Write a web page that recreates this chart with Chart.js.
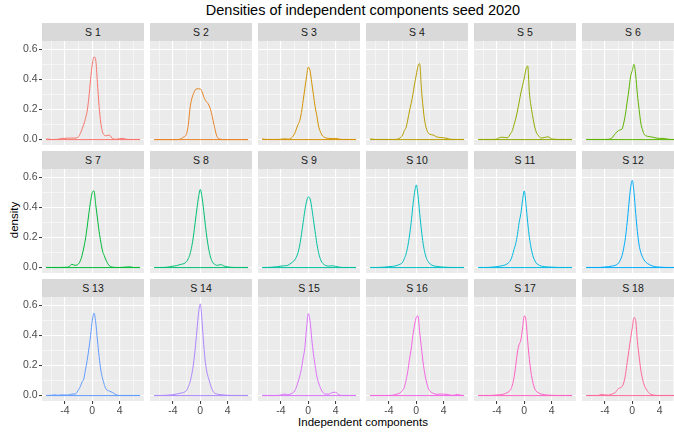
<!DOCTYPE html>
<html>
<head>
<meta charset="utf-8">
<script src="https://cdn.jsdelivr.net/npm/chart.js@4/dist/chart.umd.min.js"></script>
<style>
  body { margin: 0; background: #fff; }
  #wrap { position: relative; width: 674px; height: 432px; overflow: hidden; background: #fff;
          font-family: "Liberation Sans", Arial, sans-serif; }
  #wrap canvas { position: absolute; }
  .strip { position: absolute; background: #D9D9D9; color: #1A1A1A; font-size: 10.5px;
           text-align: center; }
  .title { position: absolute; left: 42px; width: 642px; text-align: center; color: #000; }
</style>
</head>
<body>
<div id="wrap">
  <div class="title" style="top:2px;font-size:14.5px;">Densities of independent components seed 2020</div>
  <div class="title" style="top:416px;font-size:11.5px;">Independent components</div>
  <div style="position:absolute;left:14px;top:220px;transform:translate(-50%,-50%) rotate(-90deg);font-size:11.5px;white-space:nowrap;">density</div>
</div>
<script>
// density grid shared by every component
const xGrid = [-6.75, -6.5, -6, -5.5, -5, -4.5, -4, -3.5, -3, -2.5, -2, -1.75, -1.5, -1.25, -1, -0.75, -0.5, -0.25,
  0, 0.25, 0.5, 0.75, 1, 1.25, 1.5, 1.75, 2, 2.5, 3, 3.5, 4, 4.5, 5, 5.5, 6, 6.5, 7];

const labels = ['S 1', 'S 2', 'S 3', 'S 4', 'S 5', 'S 6', 'S 7', 'S 8', 'S 9',
  'S 10', 'S 11', 'S 12', 'S 13', 'S 14', 'S 15', 'S 16', 'S 17', 'S 18'];

const colors = ['#F8766D', '#E88526', '#D39200', '#B79F00', '#93AA00', '#5EB300', '#00BA38', '#00BF74', '#00C19F',
  '#00BFC4', '#00B9E3', '#00ADFA', '#619CFF', '#AE87FF', '#DB72FB', '#F564E3', '#FF61C3', '#FF699C'];

const s1 = [0.004,0.003,0.001,0.001,0.002,0.008,0.008,0.01,0.01,0.01,0.02,0.04,0.07,0.1,0.14,0.19,0.28,0.4,0.5,0.55,0.53,0.38,0.22,0.11,0.05,0.03,0.025,0.03,0.005,0.002,0.006,0.008,0.002,0.001,0.001,0.001,0.001];
const s2 = [0,0,0,0,0,0,0,0,0.002,0.015,0.04,0.1,0.21,0.27,0.305,0.33,0.338,0.338,0.337,0.32,0.285,0.262,0.248,0.23,0.2,0.155,0.1,0.015,0.002,0,0,0,0,0,0,0,0];
const s3 = [0.005,0.002,0.001,0.001,0.001,0.001,0.002,0.005,0.003,0.01,0.04,0.07,0.1,0.127,0.18,0.26,0.34,0.42,0.482,0.46,0.38,0.3,0.22,0.16,0.09,0.055,0.03,0.012,0.008,0.006,0.008,0.003,0.001,0.001,0.001,0.001,0.001];
const s4 = [0.004,0.003,0.001,0.001,0.001,0.001,0.001,0.001,0.001,0.008,0.03,0.06,0.08,0.13,0.19,0.24,0.3,0.37,0.43,0.49,0.505,0.34,0.21,0.12,0.07,0.045,0.035,0.03,0.018,0.014,0.012,0.008,0.002,0.001,0.001,0.001,0.001];
const s5 = [0.001,0.001,0.001,0.001,0.001,0.001,0.004,0.015,0.015,0.012,0.04,0.06,0.1,0.14,0.19,0.25,0.31,0.36,0.41,0.47,0.49,0.31,0.22,0.15,0.09,0.05,0.03,0.01,0.015,0.018,0.005,0.002,0.001,0.001,0.001,0.001,0.001];
const s6 = [0.001,0.001,0.001,0.001,0.001,0.001,0.001,0.002,0.01,0.04,0.06,0.065,0.07,0.11,0.17,0.25,0.33,0.42,0.46,0.5,0.43,0.3,0.2,0.11,0.065,0.035,0.025,0.02,0.016,0.01,0.008,0.008,0.005,0.001,0.001,0.001,0.001];
const s7 = [0.002,0.001,0.001,0.001,0.001,0.001,0.002,0.003,0.022,0.015,0.025,0.045,0.08,0.13,0.19,0.27,0.36,0.44,0.5,0.51,0.42,0.33,0.24,0.17,0.11,0.08,0.05,0.012,0.003,0.001,0.001,0.002,0.004,0.005,0.001,0.001,0.001];
const s8 = [0.001,0.001,0.001,0.001,0.002,0.005,0.01,0.012,0.02,0.025,0.04,0.06,0.09,0.14,0.21,0.3,0.39,0.47,0.52,0.47,0.38,0.28,0.19,0.12,0.07,0.04,0.025,0.015,0.02,0.01,0.005,0.002,0.001,0.001,0.001,0.001,0.001];
const s9 = [0.001,0.001,0.001,0.002,0.004,0.006,0.01,0.012,0.015,0.03,0.05,0.07,0.1,0.15,0.22,0.3,0.38,0.44,0.47,0.46,0.4,0.32,0.24,0.16,0.1,0.06,0.035,0.015,0.01,0.012,0.008,0.003,0.001,0.001,0.001,0.001,0.001];
const s10 = [0.001,0.001,0.001,0.001,0.002,0.004,0.006,0.008,0.012,0.02,0.035,0.06,0.09,0.14,0.21,0.3,0.41,0.5,0.55,0.48,0.36,0.25,0.16,0.1,0.06,0.04,0.025,0.012,0.008,0.005,0.003,0.002,0.001,0.001,0.001,0.001,0.001];
const s11 = [0.001,0.001,0.001,0.001,0.002,0.004,0.006,0.01,0.015,0.025,0.05,0.08,0.12,0.16,0.22,0.3,0.36,0.45,0.51,0.42,0.3,0.2,0.13,0.08,0.05,0.03,0.02,0.01,0.006,0.004,0.003,0.002,0.001,0.001,0.001,0.001,0.001];
const s12 = [0.001,0.001,0.001,0.001,0.001,0.002,0.004,0.006,0.01,0.015,0.03,0.05,0.08,0.13,0.2,0.3,0.42,0.53,0.58,0.5,0.36,0.24,0.15,0.1,0.07,0.05,0.035,0.02,0.01,0.005,0.003,0.002,0.001,0.001,0.001,0.001,0.001];
const s13 = [0.001,0.001,0.002,0.005,0.002,0.005,0.004,0.004,0.01,0.01,0.04,0.06,0.09,0.11,0.17,0.235,0.31,0.4,0.5,0.548,0.49,0.37,0.26,0.17,0.115,0.075,0.045,0.03,0.02,0.005,0.001,0.001,0.001,0.001,0.001,0.001,0.001];
const s14 = [0.001,0.001,0.001,0.001,0.002,0.004,0.006,0.01,0.015,0.02,0.035,0.06,0.09,0.14,0.21,0.31,0.43,0.55,0.61,0.5,0.34,0.22,0.15,0.11,0.07,0.04,0.02,0.01,0.006,0.004,0.002,0.001,0.001,0.001,0.001,0.001,0.001];
const s15 = [0.001,0.001,0.001,0.001,0.001,0.001,0.004,0.01,0.006,0.012,0.03,0.055,0.09,0.13,0.18,0.25,0.32,0.45,0.545,0.5,0.38,0.28,0.2,0.13,0.085,0.055,0.03,0.01,0.01,0.02,0.022,0.005,0.001,0.001,0.001,0.001,0.001];
const s16 = [0.001,0.001,0.001,0.001,0.001,0.001,0.001,0.002,0.008,0.015,0.035,0.055,0.1,0.16,0.24,0.31,0.4,0.47,0.52,0.53,0.42,0.32,0.22,0.145,0.09,0.05,0.03,0.015,0.008,0.01,0.01,0.008,0.003,0.002,0.008,0.002,0.001];
const s17 = [0.001,0.001,0.001,0.001,0.001,0.002,0.004,0.006,0.01,0.02,0.04,0.07,0.12,0.2,0.29,0.34,0.37,0.45,0.53,0.5,0.36,0.24,0.15,0.09,0.05,0.03,0.02,0.01,0.005,0.003,0.002,0.001,0.001,0.001,0.001,0.001,0.001];
const s18 = [0.001,0.001,0.001,0.001,0.001,0.008,0.004,0.003,0.01,0.02,0.048,0.052,0.06,0.085,0.14,0.22,0.3,0.38,0.45,0.52,0.5,0.36,0.26,0.17,0.11,0.07,0.045,0.015,0.005,0.001,0.001,0.001,0.001,0.001,0.001,0.001,0.001];

const series = [s1, s2, s3, s4, s5, s6, s7, s8, s9, s10, s11, s12, s13, s14, s15, s16, s17, s18];

// panel geometry (facet grid 6 x 3)
const PANEL_W = 102, PANEL_H = 104, COL_STEP = 108, ROW_STEP = 128;
const LEFT = 42, TOP = 41, STRIP_H = 18;
const Y_AXIS_W = 42, X_AXIS_H = 22;

const tickFont = { family: "'Liberation Sans', Arial, sans-serif", size: 10.5 };

const panelBg = {
  id: 'panelBg',
  beforeDraw(chart) {
    const a = chart.chartArea;
    chart.ctx.save();
    chart.ctx.fillStyle = '#EBEBEB';
    chart.ctx.fillRect(a.left, a.top, a.right - a.left, a.bottom - a.top);
    chart.ctx.restore();
  }
};

const isMajorX = v => Math.round(v) % 4 === 0;
const isMajorY = v => Math.round(v * 10) % 2 === 0;

const wrap = document.getElementById('wrap');

series.forEach((vals, i) => {
  const col = i % 6, row = Math.floor(i / 6);
  const px = LEFT + col * COL_STEP, py = TOP + row * ROW_STEP;
  const showY = col === 0, showX = row === 2;

  const strip = document.createElement('div');
  strip.className = 'strip';
  strip.style.cssText = `left:${px}px;top:${py - STRIP_H}px;width:${PANEL_W}px;height:${STRIP_H}px;line-height:${STRIP_H}px;`;
  strip.textContent = labels[i];
  wrap.appendChild(strip);

  const w = PANEL_W + (showY ? Y_AXIS_W : 0);
  const h = PANEL_H + (showX ? X_AXIS_H : 0);
  const cv = document.createElement('canvas');
  cv.width = w; cv.height = h;
  cv.style.cssText = `left:${px - (showY ? Y_AXIS_W : 0)}px;top:${py}px;width:${w}px;height:${h}px;`;
  wrap.appendChild(cv);

  const pts = xGrid.map((x, k) => ({ x, y: vals[k] }));
  const base = [{ x: xGrid[0], y: 0 }, { x: xGrid[xGrid.length - 1], y: 0 }];

  new Chart(cv, {
    type: 'line',
    data: {
      datasets: [
        { data: pts, borderColor: colors[i], borderWidth: 1, pointRadius: 0, cubicInterpolationMode: 'monotone', fill: false },
        { data: base, borderColor: colors[i], borderWidth: 1, pointRadius: 0, fill: false }
      ]
    },
    options: {
      responsive: false,
      animation: false,
      events: [],
      layout: { padding: 0 },
      plugins: { legend: { display: false }, tooltip: { enabled: false }, title: { display: false } },
      scales: {
        x: {
          type: 'linear', min: -7.36, max: 7.57,
          afterFit: s => { s.height = showX ? X_AXIS_H : 0; s.paddingLeft = 0; s.paddingRight = 0; },
          border: { display: false },
          grid: {
            color: '#FFFFFF',
            lineWidth: c => isMajorX(c.tick.value) ? 1.1 : 0.5,
            drawTicks: showX, tickLength: 3,
            tickColor: c => isMajorX(c.tick.value) ? '#333333' : 'rgba(0,0,0,0)', tickWidth: 1
          },
          ticks: {
            display: showX, stepSize: 2, includeBounds: false, autoSkip: false, maxRotation: 0,
            padding: 1, color: '#4D4D4D', font: tickFont,
            callback: v => isMajorX(v) ? String(v) : ''
          }
        },
        y: {
          type: 'linear', min: -0.036, max: 0.656,
          afterFit: s => { s.width = showY ? Y_AXIS_W : 0; s.paddingTop = 0; s.paddingBottom = 0; },
          border: { display: false },
          grid: {
            color: '#FFFFFF',
            lineWidth: c => isMajorY(c.tick.value) ? 1.1 : 0.5,
            drawTicks: showY, tickLength: 3,
            tickColor: c => isMajorY(c.tick.value) ? '#333333' : 'rgba(0,0,0,0)', tickWidth: 1
          },
          ticks: {
            display: showY, stepSize: 0.1, includeBounds: false, autoSkip: false,
            padding: 1.5, color: '#4D4D4D', font: tickFont,
            callback: v => isMajorY(v) ? v.toFixed(1) : ''
          }
        }
      }
    },
    plugins: [panelBg]
  });
});
</script>
</body>
</html>
